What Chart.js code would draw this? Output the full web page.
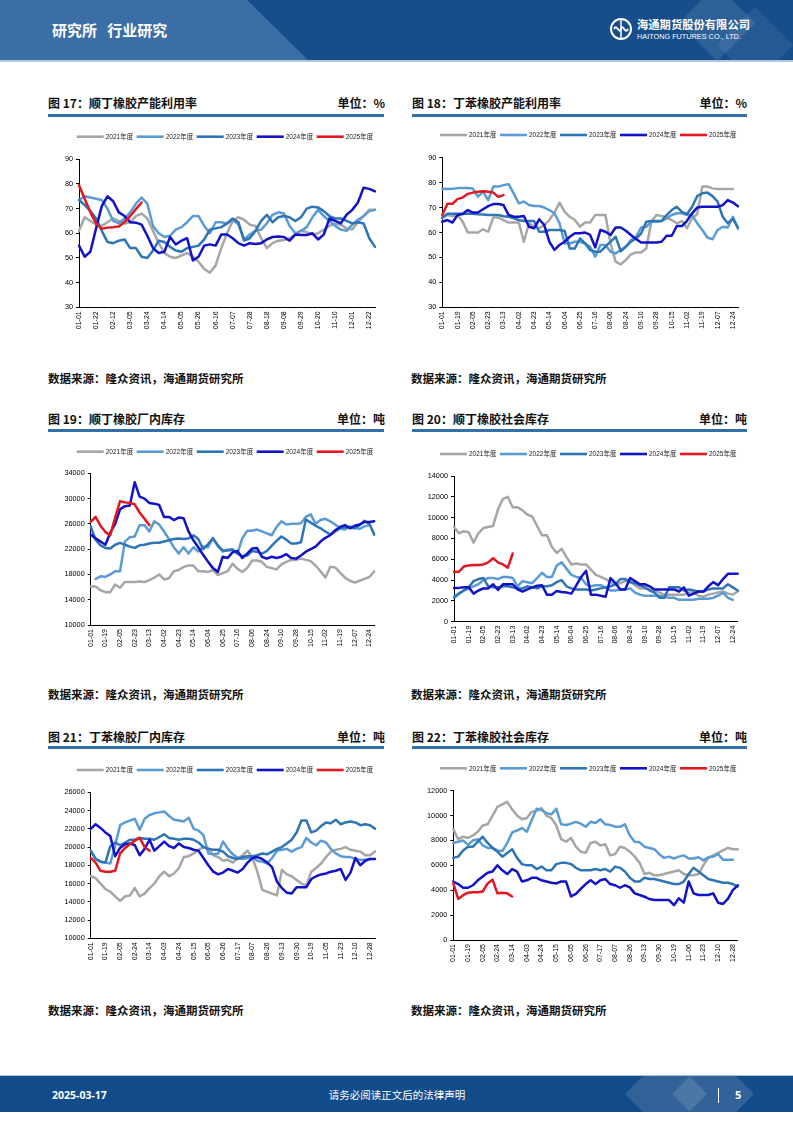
<!DOCTYPE html>
<html><head><meta charset="utf-8">
<script src="https://cdn.jsdelivr.net/npm/chart.js@4.4.1/dist/chart.umd.min.js"></script>
<style>
body{margin:0;width:793px;height:1122px;position:relative;background:#fff;overflow:hidden;font-family:"Noto Sans CJK SC","Noto Sans",sans-serif}
.abs{position:absolute}
.ttl{position:absolute;font-weight:bold;font-size:12px;line-height:16px;color:#111;white-space:nowrap}
.unit{position:absolute;font-weight:bold;font-size:12px;line-height:16px;color:#111;white-space:nowrap;text-align:right}
.rule{position:absolute;height:3px;background:#3170aa}
.src{position:absolute;font-weight:bold;font-size:11.5px;line-height:16px;color:#111;white-space:nowrap}
canvas{position:absolute}
</style></head><body>

<!-- header -->
<div class="abs" style="left:0;top:0;width:793px;height:60px;background:#164e8c;overflow:hidden">
  <div class="abs" style="left:0;top:0;width:320px;height:60px;background:#3a6ea5;clip-path:polygon(0 0,247px 0,308px 60px,0 60px)"></div>
  <div class="abs" style="left:690px;top:-4px;width:54px;height:54px;background:rgba(255,255,255,0.10);transform:rotate(45deg)"></div>
  <div class="abs" style="left:728px;top:18px;width:54px;height:54px;background:rgba(255,255,255,0.07);transform:rotate(45deg)"></div>
</div>
<div class="abs" style="left:0;top:60px;width:793px;height:2px;background:#b3c8df"></div>
<div class="abs" style="left:52px;top:20px;color:#fff;font-weight:bold;font-size:15px;line-height:20px;white-space:nowrap">研究所&nbsp;&nbsp;&nbsp;行业研究</div>
<svg class="abs" style="left:609px;top:17px" width="24" height="24" viewBox="0 0 24 24">
  <circle cx="12" cy="12" r="10" fill="none" stroke="#fff" stroke-width="2"/>
  <path d="M5 12 C8 6,10 18,12 12 C14 6,16 18,19 12" fill="none" stroke="#fff" stroke-width="1.8"/>
  <path d="M12 3 L12 21" stroke="#fff" stroke-width="1.5"/>
</svg>
<div class="abs" style="left:637px;top:17px;color:#fff;font-weight:bold;font-size:11.3px;line-height:14px;white-space:nowrap;letter-spacing:0px">海通期货股份有限公司</div>
<div class="abs" style="left:637px;top:32px;color:#fff;font-size:7.3px;line-height:10px;white-space:nowrap;font-family:'Liberation Sans',sans-serif">HAITONG FUTURES CO., LTD.</div>

<!-- titles -->
<div class="ttl" style="left:48px;top:95px">图 17：顺丁橡胶产能利用率</div>
<div class="unit" style="left:285px;width:100px;top:95px">单位：%</div>
<div class="rule" style="left:48px;top:113.5px;width:336px"></div>
<div class="ttl" style="left:412px;top:95px">图 18：丁苯橡胶产能利用率</div>
<div class="unit" style="left:647px;width:100px;top:95px">单位：%</div>
<div class="rule" style="left:411.5px;top:113.5px;width:335.5px"></div>

<div class="ttl" style="left:48px;top:411px">图 19：顺丁橡胶厂内库存</div>
<div class="unit" style="left:285px;width:100px;top:411px">单位：吨</div>
<div class="rule" style="left:48px;top:429.2px;width:336px"></div>
<div class="ttl" style="left:412px;top:411px">图 20：顺丁橡胶社会库存</div>
<div class="unit" style="left:647px;width:100px;top:411px">单位：吨</div>
<div class="rule" style="left:411.5px;top:429.2px;width:335.5px"></div>

<div class="ttl" style="left:48px;top:728.7px">图 21：丁苯橡胶厂内库存</div>
<div class="unit" style="left:285px;width:100px;top:728.7px">单位：吨</div>
<div class="rule" style="left:48px;top:746.2px;width:336px"></div>
<div class="ttl" style="left:412px;top:728.7px">图 22：丁苯橡胶社会库存</div>
<div class="unit" style="left:647px;width:100px;top:728.7px">单位：吨</div>
<div class="rule" style="left:411.5px;top:746.2px;width:335.5px"></div>

<canvas id="c17"></canvas><canvas id="c18"></canvas>
<canvas id="c19"></canvas><canvas id="c20"></canvas>
<canvas id="c21"></canvas><canvas id="c22"></canvas>

<div class="src" style="left:48px;top:370px">数据来源：隆众资讯，海通期货研究所</div>
<div class="src" style="left:411px;top:370px">数据来源：隆众资讯，海通期货研究所</div>
<div class="src" style="left:48px;top:686px">数据来源：隆众资讯，海通期货研究所</div>
<div class="src" style="left:411px;top:686px">数据来源：隆众资讯，海通期货研究所</div>
<div class="src" style="left:48px;top:1002px">数据来源：隆众资讯，海通期货研究所</div>
<div class="src" style="left:411px;top:1002px">数据来源：隆众资讯，海通期货研究所</div>

<!-- footer -->
<div class="abs" style="left:0;top:1075px;width:793px;height:1px;background:#a9c2de"></div>
<div class="abs" style="left:0;top:1076px;width:793px;height:36px;background:#134c8a;overflow:hidden">
  <div class="abs" style="left:637px;top:-11px;width:58px;height:58px;background:rgba(255,255,255,0.13);transform:rotate(45deg)"></div>
  <div class="abs" style="left:684px;top:-11px;width:58px;height:58px;background:rgba(255,255,255,0.13);transform:rotate(45deg)"></div>
</div>
<div class="abs" style="left:52px;top:1087px;color:#fff;font-weight:bold;font-size:10.5px;line-height:16px;font-family:'Open Sans','DejaVu Sans',sans-serif;white-space:nowrap">2025-03-17</div>
<div class="abs" style="left:297px;width:200px;top:1087px;color:#fff;font-size:10.5px;line-height:16px;text-align:center;white-space:nowrap">请务必阅读正文后的法律声明</div>
<div class="abs" style="left:717.5px;top:1088px;width:1.6px;height:15px;background:#fff"></div>
<div class="abs" style="left:735px;top:1087px;color:#fff;font-weight:bold;font-size:11px;line-height:16px;font-family:'Open Sans',sans-serif">5</div>

<script>
// ---------------- data ----------------
const seriesNames = ['2021年度','2022年度','2023年度','2024年度','2025年度'];

// 图17 顺丁橡胶产能利用率 (%)
const ticks17 = ['01-01','01-22','02-12','03-05','03-24','04-14','05-05','05-26','06-16','07-07','07-28','08-18','09-08','09-29','10-20','11-10','12-01','12-22'];
const c17_2021 = [61,66.5,65,63.5,63,64.5,66,65,64,64.5,67,68,66,61,56,52,50.5,50,51,52,50.5,48.5,45.5,44,47,54,60,65,66.5,65.5,63.5,63,58,54,56,57,57.3,58,59.5,61,60.5,59.5,60,61.5,63,64,63.5,62,61.5,64.5,67,69.5,69.5];
const c17_2022 = [73.5,75,74.5,74,73.5,70,65,64,66,68.5,72,74.5,72,63,60,58.5,59,61.5,62.5,64.5,67,67,63,60,64.5,64.5,64,65.5,63.5,57.5,59.5,61,61.5,64,67.5,68.5,68,63,60,61,62.5,66.5,69.5,67,65,63,61.5,61,63.5,65.5,67,69,69.5];
const c17_2023 = [73.5,71.5,69,66,61,56.5,56,57,57.5,54,54,50.5,50,53,57,56.5,54.5,53,52.5,54,54.5,55,57.5,61.5,62,62.5,64,66,64.5,57,58,61,65,67.5,64.5,66.5,67,66.5,65,66.5,70,70.8,70.5,69,67,66,66,65,64,64.5,64,58,54.5];
const c17_2024 = [55,50.5,52.5,62,71,75,73,68.5,67,64.5,64.3,63.5,59,54,52,52.5,58.5,55.5,57,58,49,50.5,55,55.5,55,59.5,59.5,58,56,55,56,55.7,56,57.5,58.5,58.7,58.5,57,59.5,59.3,59.3,60,57.5,59.5,66,65,64,67.5,69.5,72.5,78.5,78,77];
const c17_2025 = [79.5,74,68.5,64,61.8,62.3,62.5,62.8,64.5,67,69.8,72.5];

// 图18 丁苯橡胶产能利用率 (%)
const ticks18 = ['01-01','01-19','02-05','02-23','03-13','04-02','04-23','05-14','06-04','06-25','07-16','08-06','08-24','09-10','09-28','10-15','11-02','11-19','12-07','12-24'];
const c18_2021 = [65.7,67,66.6,67,64.3,60,60,60,61.3,60.3,66,66,65,64,64,64,56.3,63.7,62.3,61.7,63,65,68,72,68.3,66.3,65,62.3,64,64,67,67,67,55.6,48.3,47.2,49,51.2,52,52,53.6,64.3,67,66.6,66,65,63.7,64.6,61.7,65.7,67.3,78.4,78.4,77.7,77.4,77.4,77.4,77.4,null];
const c18_2022 = [77.5,77.4,77.5,77.8,77.8,77.8,77.6,74.4,76.4,73,78.4,78.4,79,79.4,75.7,71.7,72.4,71,70.6,70.6,70,69,67.7,63.7,55.6,55.6,56.3,56.3,55.6,54.3,50.3,55,55,52.3,51.6,53,54.3,57,58.3,62,62.3,64.3,64.3,64.6,65.7,67,67.7,67.7,67,67,63.7,61,58,57.3,61,62.3,62,66.3,61.5];
const c18_2023 = [66,67.5,67.5,67.5,67.5,67.5,67.5,67.3,67.2,67,67,67,66.5,66.3,65.7,65,64.6,64.6,64.6,60.3,60.3,61,61,61,60.6,53.6,53.6,57.6,55.6,53,52.3,52.3,54.3,56.3,58.3,52.5,54.3,56.3,57.6,59.6,64.3,64.6,64.6,64.6,67,69,70.3,68.3,67.4,70.3,74.6,75.7,76,74.6,72.4,66.3,63.7,65.5,62];
const c18_2024 = [64.3,65,64,67,67.4,69,68,68,69.3,70.6,71.4,71.4,71,67,66.3,66.3,66.6,62.3,61.7,65.3,63,56.3,53,55,56.3,58.3,59.7,59.7,60,59,54,61,60.3,59,62,62,60.7,59,57.4,56,56,56,56,56.3,58.7,58.7,62.6,62.6,64.7,67.7,70,70.3,70.3,70.3,70.3,71,73,72,70.5];
const c18_2025 = [67,71.5,71.5,73.5,74,75.5,76,76.3,76.5,76.3,76,74.3,75];

// 图19 顺丁橡胶厂内库存 (吨)
const ticks19 = ['01-01','01-19','02-05','02-23','03-13','04-02','04-23','05-14','06-04','06-25','07-16','08-06','08-24','09-10','09-28','10-15','11-02','11-19','12-07','12-24'];
const c19_2021 = [16100,16100,15500,15200,15200,16400,15900,16800,16800,16800,16900,16800,17100,17500,18000,17200,17400,18500,18700,19200,19400,19400,18500,18500,18400,18700,17900,18200,18500,19700,18900,18400,19000,20200,20200,20000,19200,19000,18800,19600,20000,20300,20300,20500,20300,20100,19400,18500,17500,19200,19100,18300,17500,17000,16700,17000,17300,17600,18500];
const c19_2022 = [null,17300,17700,17600,18000,18500,18500,23200,23900,24000,25800,25800,24800,26400,25900,24800,23600,22300,21300,22300,21300,22300,21600,22400,22300,23800,22500,21600,21900,22000,21300,23700,24900,24900,25100,24800,24500,24200,25500,26400,25900,26000,26000,26100,27100,27500,26000,26600,26800,26400,25900,25300,25100,25600,25400,25200,25600,25800,null];
const c19_2023 = [25600,23500,22600,22200,22100,22700,23000,22700,22400,22200,22600,22700,22900,23000,23000,23200,23400,23600,23700,23600,23700,24200,23600,22000,22800,23700,22600,21800,21800,21900,21300,20900,21000,21700,21600,21300,21700,22500,23300,24000,23500,22900,22900,23100,26700,26200,25700,25300,24800,24300,24800,25300,25500,25400,25300,25800,26500,26000,24300];
const c19_2024 = [24300,23700,23200,22700,24600,26000,28300,28800,28900,32600,30300,30000,29300,29200,29000,27100,27100,26600,27000,26900,24800,23400,22300,21100,20000,19000,18400,20800,20600,21500,21700,20600,21300,22100,22200,20800,20500,20800,20600,20800,21200,20600,20500,21000,21600,22000,22400,23200,23800,24200,25000,25500,25800,25300,25700,25900,26300,26300,26400];
const c19_2025 = [26300,27100,25700,24700,24200,27000,29600,29400,29300,29100,27800,26800,25800];

// 图20 顺丁橡胶社会库存 (吨)
const ticks20 = ['01-01','01-19','02-05','02-23','03-13','04-02','04-23','05-14','06-04','06-25','07-16','08-06','08-24','09-10','09-28','10-15','11-02','11-19','12-07','12-24'];
const c20_2021 = [9100,8500,8700,8600,7600,8500,9000,9100,9200,10800,11800,12000,11000,11000,10700,10300,10100,9200,8300,8300,7200,6600,7000,6200,5500,5600,5500,5500,5000,4500,4300,4100,3800,3600,3700,3900,3900,3500,3200,3200,3100,3000,2800,2600,2600,2600,2600,2600,2800,2800,2500,2400,2600,2700,2800,2900,2700,2600,2900];
const c20_2022 = [2400,2700,3000,3200,3400,3600,4000,4200,4200,4100,4300,4300,4200,3400,3900,3800,3700,4200,4700,4300,4300,5400,5700,5100,4500,4300,4200,3600,3400,3500,3500,3300,3000,3000,3100,3100,3200,2800,2600,2500,2500,2500,2500,2400,2300,2300,2100,2100,2100,2100,2200,2200,2200,2300,2500,2800,2300,2100,null];
const c20_2023 = [2300,2700,3000,3300,3900,4100,4200,3400,3300,3300,3400,3400,3300,3200,3200,3400,3300,3200,3400,3400,3500,3800,4000,3400,3200,3100,3100,3100,3000,3100,3200,3300,3400,3600,4100,4100,3800,3700,3500,3300,3000,2800,2300,2300,3300,3300,3300,3000,3100,3000,2900,2900,3100,3200,3200,3200,3600,3300,3000];
const c20_2024 = [3250,3250,3300,3300,2700,3000,3200,3200,3600,3050,3600,3600,3600,3100,2900,3100,3300,3450,3500,2600,2600,2950,2850,2800,2700,3500,4300,4900,2600,2600,2500,2400,4200,3700,3100,3100,4200,3900,3600,3600,3400,3100,3100,3100,3100,3100,2900,3300,2500,2700,2900,2900,3400,3800,3500,4100,4600,4600,4600];
const c20_2025 = [4800,4800,5300,5400,5450,5450,5500,5700,6100,5700,5500,5200,6550];

// 图21 丁苯橡胶厂内库存 (吨)
const ticks21 = ['01-01','01-19','02-05','02-24','03-14','04-03','04-24','05-15','06-05','06-26','07-17','08-07','08-26','09-13','09-30','10-19','11-05','11-23','12-10','12-28'];
const c21_2021 = [16800,16600,16000,15400,15100,14600,14100,14600,14700,15500,14600,14900,15500,16000,16800,17300,16800,17100,17700,18900,19000,19300,19700,20000,19900,19100,18900,18500,18600,18300,18800,19100,19600,18800,17300,15300,15100,14900,14700,17500,17000,16800,16400,16000,15800,17300,17700,18200,18900,19500,19700,19800,20000,19700,19600,19500,19100,19100,19500];
const c21_2022 = [19600,18700,18400,18300,18200,20200,22400,22700,22900,23100,21900,23100,23500,23700,23800,23900,23400,23000,22900,22800,23200,22000,21800,21300,19300,19200,19300,20600,19800,19200,18800,18700,18800,18900,18500,18400,18200,18800,19600,19700,19800,19500,19800,20000,21000,20500,20200,20700,20500,19800,19300,19000,18900,18900,18700,18600,18600,18700,null];
const c21_2023 = [19600,18700,18400,18300,20100,20500,20200,20500,20800,20800,21000,20900,20900,20800,21100,21400,21000,20900,20800,20900,20900,20800,20500,20000,19800,19700,19700,19500,19000,18800,18700,18900,19000,19000,19100,19300,19200,19500,19800,20000,20400,20800,21600,22900,22900,21600,21800,22300,22700,22600,23000,22500,22700,22800,22700,22400,22500,22400,22000];
const c21_2024 = [22000,22500,22100,21600,21200,19000,19900,20300,20400,20200,19100,19800,20800,19600,20100,20600,20100,19900,20400,20000,19900,19700,19600,18800,18000,17300,17000,17200,17600,17400,17200,17600,18300,18800,18900,18700,18300,17800,16200,15500,15000,14900,15600,15600,15600,16500,16800,17000,17100,17300,17400,17600,16400,17200,18800,18000,18500,18700,18700];
const c21_2025 = [18800,18300,17400,17300,17300,17400,19300,19900,20300,20700,21000,20000,19600];

// 图22 丁苯橡胶社会库存 (吨)
const ticks22 = ['01-01','01-19','02-05','02-24','03-14','04-03','04-24','05-15','06-05','06-26','07-17','08-07','08-26','09-13','09-30','10-19','11-06','11-23','12-10','12-28'];
const c22_2021 = [8900,8100,8300,8200,8400,8700,9200,9300,10000,10700,10900,11100,10500,10000,9700,9800,10300,10400,10600,10000,9800,9200,8100,7900,8200,7500,7100,7000,7800,7900,7600,7700,6800,6900,7500,7400,7100,6700,6200,5300,5400,5200,5200,5300,5400,5500,5600,5300,5200,5200,5300,6000,6600,6800,7000,7200,7400,7300,7300];
const c22_2022 = [7800,7900,8000,7650,8000,8100,7600,7400,7400,7200,7150,7800,8650,8800,9000,8700,9650,10550,10450,10200,10100,10550,9300,9250,9350,9500,9350,9100,9500,9400,9700,9300,9250,9100,9100,9300,8400,7900,7850,7500,7400,7300,6900,6600,6700,6550,6700,6800,6550,6550,6650,6400,6650,6700,6900,6450,6450,6450,null];
const c22_2023 = [6600,6700,7200,7500,7500,7900,8300,7800,7400,7100,6700,7000,7300,6600,6100,6000,6000,5700,5900,5600,5600,6100,6200,6200,6100,5800,5600,5600,5600,5700,5600,5700,5500,5900,5800,5500,5000,4700,4700,5000,4900,4900,4800,4700,4600,4500,4500,4700,5300,5800,5500,5200,4900,4800,4700,4600,4600,4500,4300];
const c22_2024 = [4700,4500,4200,4200,4400,4800,5100,5400,5500,6000,5600,5300,5700,5500,4700,4800,5000,5000,4800,4700,4600,4550,4700,4700,3500,3700,4100,4500,4800,4500,4800,4900,4500,4400,4200,4400,4230,3750,3620,3480,3290,3210,3210,3210,3210,2800,3350,3000,4700,3750,3620,3620,3620,3750,3000,2900,3300,4000,4400];
const c22_2025 = [4550,3300,3600,3800,3830,3830,3900,4550,4850,3750,3800,3750,3500];

// ---------------- styling / layout ----------------
const lineColors = ['#a6a6a6','#5b9bd5','#2e75b6','#1212c8','#e3171f'];

const refLegend = {
  id: 'refLegend',
  afterDraw(chart, args, o) {
    const ctx = chart.ctx;
    ctx.save();
    chart.data.datasets.forEach((ds, i) => {
      const x = o.x + i * o.pitch;
      ctx.strokeStyle = ds.borderColor;
      ctx.lineWidth = 2.6;
      ctx.lineCap = 'butt';
      ctx.beginPath(); ctx.moveTo(x, o.y); ctx.lineTo(x + o.lineLen, o.y); ctx.stroke();
      ctx.fillStyle = '#222';
      ctx.font = o.font;
      ctx.textBaseline = 'middle';
      ctx.textAlign = 'left';
      ctx.fillText(ds.label, x + o.lineLen + 2, o.y + 0.5);
    });
    ctx.restore();
  }
};

function buildCategories(ticks, n, step) {
  const cats = [];
  for (let i = 0; i < n; i++) cats.push(i % step === 0 && ticks[i / step] !== undefined ? ticks[i / step] : '');
  return cats;
}

function makeChart(id, g, ticks, series, yMin, yMax, yStep) {
  const cv = document.getElementById(id);
  cv.width = g.w; cv.height = g.h;
  cv.style.left = g.left + 'px'; cv.style.top = g.top + 'px';
  const n = Math.max(...series.map(s => s.length));
  const cats = buildCategories(ticks, n, 3);
  const datasets = series.map((d, i) => ({
    label: seriesNames[i], data: d, borderColor: lineColors[i], backgroundColor: lineColors[i],
    borderWidth: 2.5, pointRadius: 0, tension: 0, order: 5 - i,
    borderJoinStyle: 'round', borderCapStyle: 'round', fill: false
  }));
  const xH = g.top + g.h - g.plotBottom;
  const yW = g.plotLeft - g.left;
  new Chart(cv, {
    type: 'line',
    data: { labels: cats, datasets },
    options: {
      responsive: false, animation: false, events: [],
      layout: { padding: { top: g.plotTop - g.top, right: g.left + g.w - g.plotRight, bottom: 0, left: 0 } },
      plugins: {
        legend: { display: false }, tooltip: { enabled: false },
        refLegend: { x: g.legendX - g.left, y: g.legendY - g.top, pitch: 60, lineLen: 27,
                     font: '6.5px "Liberation Sans","Noto Sans CJK SC",sans-serif' }
      },
      scales: {
        x: {
          type: 'category',
          grid: { display: false, drawTicks: false },
          border: { display: true, color: '#000', width: 1 },
          ticks: { autoSkip: false, maxRotation: 90, minRotation: 90, padding: 4, color: '#000',
                   font: { family: '"Liberation Sans", sans-serif', size: 7 } },
          afterFit(s) { s.height = xH; }
        },
        y: {
          min: yMin, max: yMax,
          grid: { display: true, drawOnChartArea: false, drawTicks: true, tickLength: 3, color: '#000' },
          border: { display: true, color: '#000', width: 1 },
          ticks: { stepSize: yStep, padding: 3, color: '#000',
                   font: { family: '"Liberation Sans", sans-serif', size: 7.3 },
                   callback: v => String(v) },
          afterFit(s) { s.width = yW; }
        }
      }
    },
    plugins: [refLegend]
  });
}

const g17 = {left:48, top:121, w:352, h:221, plotLeft:79, plotRight:375, plotTop:159.3, plotBottom:307.3, legendX:76.7, legendY:136.7};
const g18 = {left:411, top:120, w:353, h:222, plotLeft:442.3, plotRight:738, plotTop:157.7, plotBottom:307.3, legendX:440, legendY:135};
const g19 = {left:48, top:437, w:352, h:222, plotLeft:90.7, plotRight:374.3, plotTop:473.3, plotBottom:625, legendX:76.7, legendY:451.7};
const g20 = {left:411, top:439, w:353, h:217, plotLeft:454, plotRight:737.7, plotTop:476, plotBottom:621.7, legendX:440, legendY:454};
const g21 = {left:48, top:755, w:352, h:218, plotLeft:90.7, plotRight:375, plotTop:792.3, plotBottom:938.3, legendX:76.7, legendY:770};
const g22 = {left:411, top:753, w:353, h:222, plotLeft:453.3, plotRight:737.7, plotTop:790.7, plotBottom:940, legendX:440, legendY:768.3};

makeChart('c17', g17, ticks17, [c17_2021, c17_2022, c17_2023, c17_2024, c17_2025], 30, 90, 10);
makeChart('c18', g18, ticks18, [c18_2021, c18_2022, c18_2023, c18_2024, c18_2025], 30, 90, 10);
makeChart('c19', g19, ticks19, [c19_2021, c19_2022, c19_2023, c19_2024, c19_2025], 10000, 34000, 4000);
makeChart('c20', g20, ticks20, [c20_2021, c20_2022, c20_2023, c20_2024, c20_2025], 0, 14000, 2000);
makeChart('c21', g21, ticks21, [c21_2021, c21_2022, c21_2023, c21_2024, c21_2025], 10000, 26000, 2000);
makeChart('c22', g22, ticks22, [c22_2021, c22_2022, c22_2023, c22_2024, c22_2025], 0, 12000, 2000);
</script>
</body></html>
